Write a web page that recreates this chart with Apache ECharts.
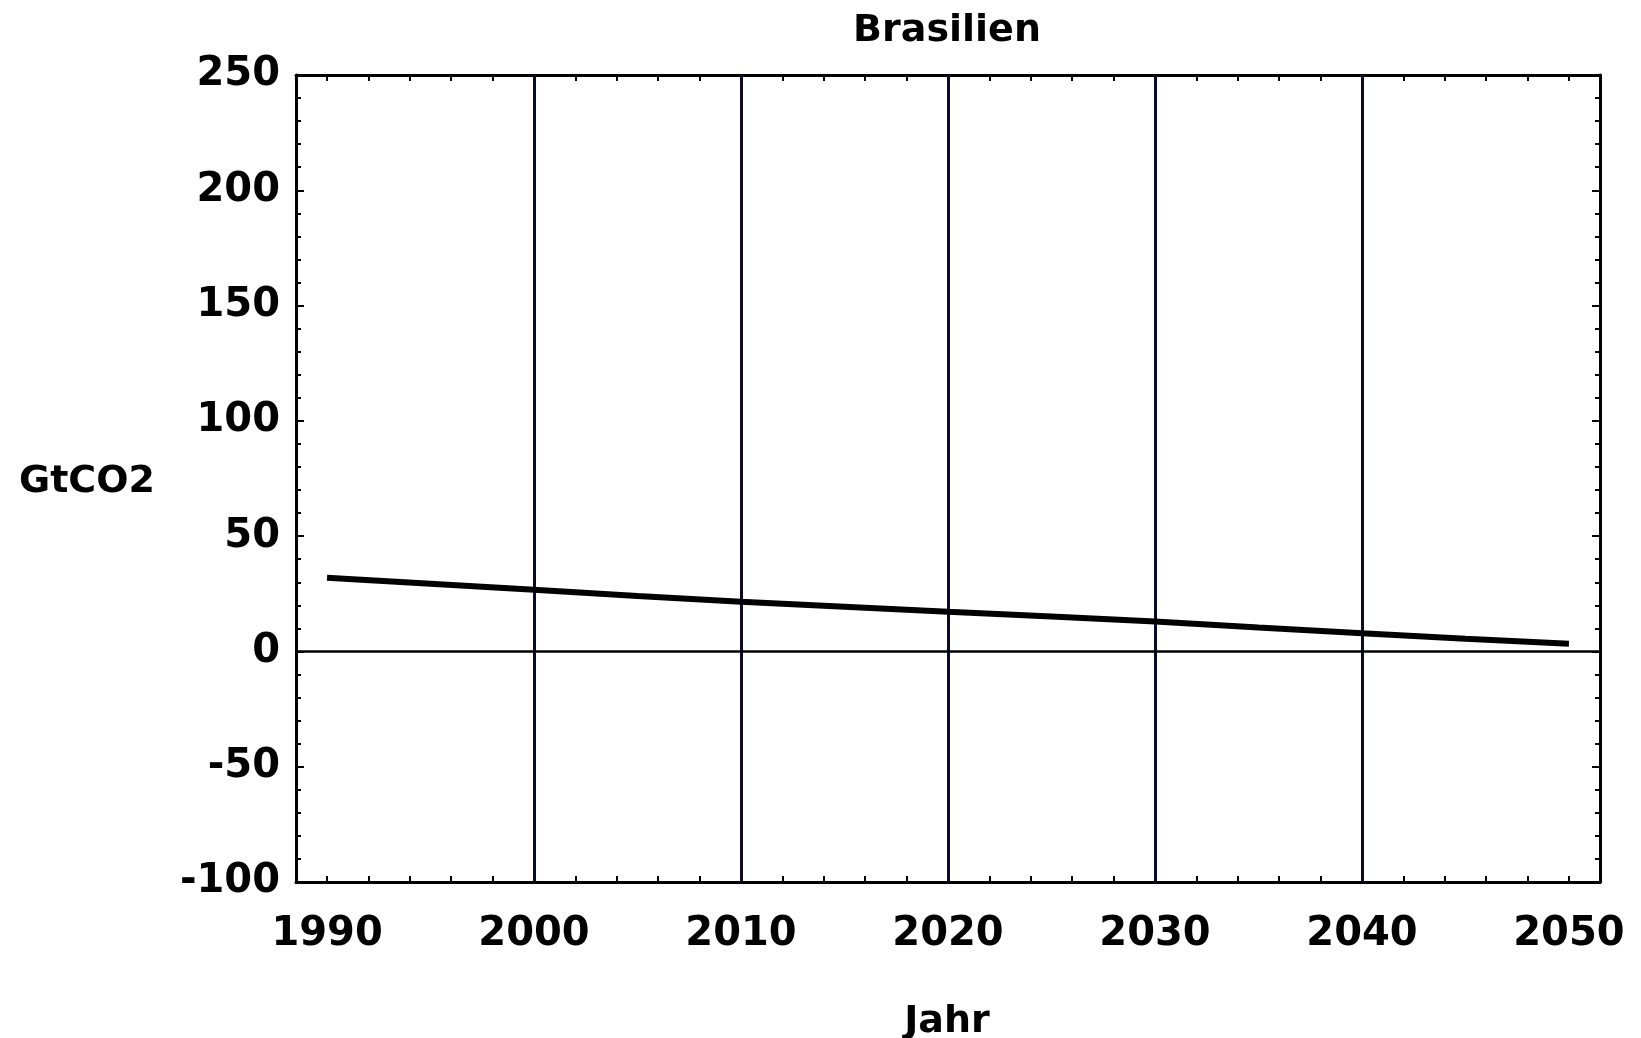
<!DOCTYPE html>
<html>
<head>
<meta charset="utf-8">
<script src="https://cdn.jsdelivr.net/npm/echarts@6/dist/echarts.min.js"></script>
<style>
html,body{margin:0;padding:0;background:#fff;}
#chart{width:1641px;height:1038px;}
</style>
</head>
<body>
<div id="chart"></div>
<script>
var titleText = 'Brasilien';
var xAxisName = 'Jahr';
var yAxisName = 'GtCO2';
var years = [1990, 1995, 2000, 2005, 2010, 2015, 2020, 2025, 2030, 2035, 2040, 2045, 2050];
var emissions = [32.0, 29.4, 26.7, 24.0, 21.5, 19.4, 17.2, 15.1, 13.0, 10.4, 7.9, 5.5, 3.3];
var xTickLabels = [1990, 2000, 2010, 2020, 2030, 2040, 2050];
var xMinorTicks = [1990, 1992, 1994, 1996, 1998, 2000, 2002, 2004, 2006, 2008, 2010, 2012, 2014, 2016, 2018, 2020, 2022, 2024, 2026, 2028, 2030, 2032, 2034, 2036, 2038, 2040, 2042, 2044, 2046, 2048, 2050];
var xGridLines = [2000, 2010, 2020, 2030, 2040];
var yZeroLine = [0];

var font = '"DejaVu Sans", sans-serif';
var chart = echarts.init(document.getElementById('chart'));

var lineData = years.map(function (y, i) { return [y, emissions[i]]; });
var gridMark = xGridLines.map(function (v) { return { xAxis: v, lineStyle: { color: '#0a0a2a', width: 3, type: 'solid' } }; })
  .concat(yZeroLine.map(function (v) { return { yAxis: v, lineStyle: { color: '#000', width: 2.6, type: 'solid' } }; }));

var frameLine = { show: true, onZero: false, lineStyle: { color: '#000', width: 3 } };

chart.setOption({
  backgroundColor: '#fff',
  animation: false,
  grid: { left: 296, right: 41, top: 75, bottom: 156, containLabel: false },
  xAxis: [{
    type: 'value', min: 1988.5, max: 2051.5, position: 'bottom',
    axisLine: frameLine,
    axisTick: { show: true, inside: true, length: 6, customValues: xMinorTicks, lineStyle: { color: '#000', width: 2 } },
    axisLabel: { show: true, customValues: xTickLabels, margin: 33, color: '#000', fontFamily: font, fontWeight: 'bold', fontSize: 40, formatter: function (v) { return String(v); } },
    splitLine: { show: false }
  }, {
    type: 'value', min: 1988.5, max: 2051.5, position: 'top',
    axisLine: frameLine,
    axisTick: { show: true, inside: true, length: 6, customValues: xMinorTicks, lineStyle: { color: '#000', width: 2 } },
    axisLabel: { show: false },
    splitLine: { show: false }
  }],
  yAxis: [{
    type: 'value', min: -100, max: 250, interval: 50, position: 'left',
    axisLine: frameLine,
    axisTick: { show: true, inside: true, length: 8, lineStyle: { color: '#000', width: 2 } },
    minorTick: { show: true, splitNumber: 5, length: 5, lineStyle: { color: '#000', width: 2 } },
    axisLabel: { show: true, margin: 16, color: '#000', fontFamily: font, fontWeight: 'bold', fontSize: 40, padding: [6, 0, 0, 0] },
    splitLine: { show: false }
  }, {
    type: 'value', min: -100, max: 250, interval: 50, position: 'right',
    axisLine: frameLine,
    axisTick: { show: true, inside: true, length: 8, lineStyle: { color: '#000', width: 2 } },
    minorTick: { show: true, splitNumber: 5, length: 5, lineStyle: { color: '#000', width: 2 } },
    axisLabel: { show: false },
    splitLine: { show: false }
  }],
  graphic: [
    { type: 'text', style: { text: titleText, x: 947, y: 31, align: 'center', verticalAlign: 'middle', fill: '#000', font: 'bold 38px ' + font } },
    { type: 'text', style: { text: yAxisName, x: 87, y: 482, align: 'center', verticalAlign: 'middle', fill: '#000', font: 'bold 38px ' + font } },
    { type: 'text', style: { text: xAxisName, x: 947, y: 1022, align: 'center', verticalAlign: 'middle', fill: '#000', font: 'bold 38px ' + font } }
  ],
  series: [{
    type: 'line', data: [], silent: true, z: 1,
    markLine: { silent: true, symbol: 'none', label: { show: false }, animation: false, data: gridMark }
  }, {
    type: 'line', data: lineData, z: 5, showSymbol: false, symbol: 'none',
    lineStyle: { color: '#000', width: 6 }
  }]
});
</script>
</body>
</html>
